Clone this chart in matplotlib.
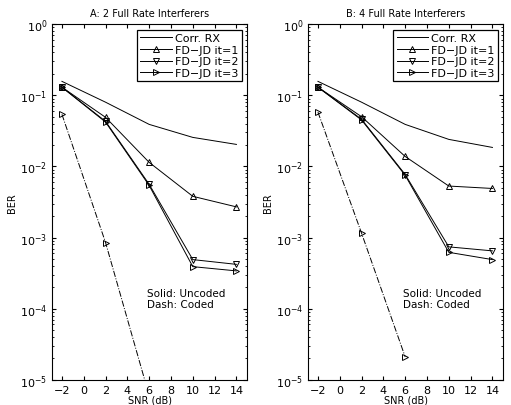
import numpy as np
import matplotlib.pyplot as plt

snr = [-2, 2, 6, 10, 14]
snr_coded = [-2, 2, 6]

titles = ['A: 2 Full Rate Interferers', 'B: 4 Full Rate Interferers']

corr_rx = [[0.157, 0.08, 0.039, 0.0256, 0.0204],
           [0.157, 0.08, 0.039, 0.024, 0.0185]]
it1 = [[0.13, 0.049, 0.0114, 0.0038, 0.0027],
       [0.13, 0.05, 0.0138, 0.0053, 0.0049]]
it2 = [[0.13, 0.043, 0.0056, 4.9e-4, 4.2e-4],
       [0.13, 0.046, 0.0077, 7.4e-4, 6.5e-4]]
it3 = [[0.13, 0.042, 0.0054, 3.9e-4, 3.4e-4],
       [0.13, 0.045, 0.0075, 6.2e-4, 4.9e-4]]
it3_coded = [[0.054, 8.5e-4, 6e-6],
             [0.058, 1.15e-3, 2.1e-5]]

plt.rcParams['font.family'] = 'DejaVu Sans'
plt.rcParams['font.size'] = 7

fig = plt.figure(figsize=(5.11, 4.06), dpi=100)
lefts = [0.102, 0.603]

for k in range(2):
    ax = fig.add_axes([lefts[k], 0.062, 0.382, 0.876])
    lw = 0.7
    ax.semilogy(snr, corr_rx[k], 'k-', lw=lw, label='Corr. RX')
    ax.semilogy(snr, it1[k], 'k-', lw=lw, marker='^', ms=5, mfc='none', mew=0.7, label='FD\u2212JD it=1')
    ax.semilogy(snr, it2[k], 'k-', lw=lw, marker='v', ms=5, mfc='none', mew=0.7, label='FD\u2212JD it=2')
    ax.semilogy(snr, it3[k], 'k-', lw=lw, marker='>', ms=5, mfc='none', mew=0.7, label='FD\u2212JD it=3')
    ax.semilogy(snr_coded, it3_coded[k], 'k-.', lw=lw, marker='>', ms=5, mfc='none', mew=0.7)
    ax.set_xlim(-2.9, 15)
    ax.set_ylim(1e-5, 1)
    ax.set_xticks([-2, 0, 2, 4, 6, 8, 10, 12, 14])
    ax.set_xticklabels(['\u22122', '0', '2', '4', '6', '8', '10', '12', '14'])
    ax.tick_params(which='both', direction='in', top=True, right=True, labelsize=8)
    ax.tick_params(which='major', length=3)
    ax.tick_params(which='minor', length=1.5)
    for s in ax.spines.values():
        s.set_linewidth(0.8)
    ax.set_title(titles[k], fontsize=7, pad=6)
    ax.set_xlabel('SNR (dB)', fontsize=7, labelpad=0)
    ax.set_ylabel('BER', fontsize=7, labelpad=2)
    ax.text(5.8, 1.4e-4, 'Solid: Uncoded\nDash: Coded', fontsize=7.5, va='center', linespacing=1.2)
    leg = ax.legend(loc='upper right', fontsize=8, fancybox=False, framealpha=1,
                    edgecolor='k', borderaxespad=0.5, handlelength=2.8, numpoints=1,
                    labelspacing=0.15, borderpad=0.3, handletextpad=0.3)
    leg.get_frame().set_linewidth(0.9)

plt.savefig('out.png', dpi=100)
